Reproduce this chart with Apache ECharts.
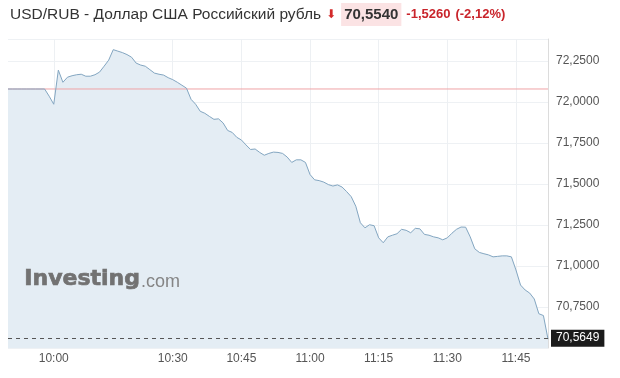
<!DOCTYPE html>
<html>
<head>
<meta charset="utf-8">
<script src="https://cdn.jsdelivr.net/npm/echarts@6/dist/echarts.min.js"></script>
<style>html,body{margin:0;padding:0;background:#fff}#c{width:620px;height:378px}</style>
</head>
<body>
<div id="c"></div>
<script>
// time categories (minutes); a few minutes missing after 10:01 as in the source
const categories = ['09:50','09:51','09:52','09:53','09:54','09:55','09:56','09:57','09:58','09:59',
  '10:00','10:01','10:06','10:07','10:08','10:09','10:10','10:11','10:12','10:13','10:14','10:15',
  '10:16','10:17','10:18','10:19','10:20','10:21','10:22','10:23','10:24','10:25','10:26','10:27','10:28','10:29',
  '10:30','10:31','10:32','10:33','10:34','10:35','10:36','10:37','10:38','10:39','10:40','10:41','10:42','10:43','10:44',
  '10:45','10:46','10:47','10:48','10:49','10:50','10:51','10:52','10:53','10:54','10:55','10:56','10:57','10:58','10:59',
  '11:00','11:01','11:02','11:03','11:04','11:05','11:06','11:07','11:08','11:09','11:10','11:11','11:12','11:13','11:14',
  '11:15','11:16','11:17','11:18','11:19','11:20','11:21','11:22','11:23','11:24','11:25','11:26','11:27','11:28','11:29',
  '11:30','11:31','11:32','11:33','11:34','11:35','11:36','11:37','11:38','11:39','11:40','11:41','11:42','11:43','11:44',
  '11:45','11:46','11:47','11:48','11:49','11:50','11:51','11:52'];
const prices = [72.08,72.08,72.08,72.08,72.08,72.08,72.08,72.08,72.08,72.036,
  71.987,72.195,72.121,72.152,72.161,72.167,72.170,72.158,72.158,72.167,72.183,72.219,
  72.256,72.320,72.311,72.302,72.290,72.274,72.238,72.226,72.219,72.198,72.177,72.170,72.165,72.149,
  72.137,72.121,72.103,72.085,72.017,71.987,71.944,71.932,71.913,71.895,71.898,71.873,71.827,71.815,71.785,
  71.769,71.739,71.711,71.714,71.693,71.676,71.687,71.695,71.693,71.687,71.665,71.632,71.648,71.648,71.632,
  71.558,71.526,71.521,71.512,71.497,71.488,71.495,71.482,71.454,71.423,71.365,71.264,71.233,71.252,71.246,
  71.172,71.142,71.178,71.188,71.197,71.224,71.218,71.203,71.230,71.227,71.193,71.188,71.178,71.172,71.160,
  71.172,71.200,71.224,71.238,71.237,71.178,71.105,71.083,71.075,71.068,71.056,71.059,71.062,71.062,71.056,
  70.976,70.884,70.854,70.835,70.799,70.709,70.698,70.554];
const xTickLabels = ['10:00','10:30','10:45','11:00','11:15','11:30','11:45'];
const yMin = 70.5, yMax = 72.385, yStep = 0.25;
const prevClose = 72.08;
const lastMark = 70.5649;
const titleName = 'USD/RUB - Доллар США Российский рубль';
const lastPrice = '70,5540', change = '-1,5260', changePct = '(-2,12%)';

const fmt = v => v.toFixed(4).replace('.', ',');
const showTick = (i, name) => xTickLabels.indexOf(name) >= 0;
const FONT = '"Liberation Sans", Arial, sans-serif';
const PINK = '#f0a4a7';
const firstCat = categories[0], lastCat = categories[categories.length - 1];

const chart = echarts.init(document.getElementById('c'), null, {renderer: 'canvas'});
chart.setOption({
  animation: false,
  backgroundColor: '#fff',
  textStyle: {fontFamily: FONT},
  title: {
    left: 10, top: 3, padding: 0,
    text: '{n|' + titleName + '} {a|⬇} {p|' + lastPrice + '} {c|' + change + '} {c|' + changePct + '}',
    textStyle: {
      fontWeight: 'normal',
      rich: {
        n: {fontSize: 15.5, fontWeight: 'normal', color: '#333', fontFamily: FONT},
        a: {fontSize: 12, color: '#d32a2a', fontFamily: 'DejaVu Sans'},
        p: {fontSize: 15, fontWeight: 'bold', color: '#333', backgroundColor: '#fbe3e4', padding: [4, 3, 4, 3], fontFamily: FONT},
        c: {fontSize: 13, fontWeight: 'bold', color: '#c9242b', fontFamily: FONT}
      }
    }
  },
  grid: {left: 8, right: 72, top: 39, bottom: 30, containLabel: false},
  xAxis: {
    type: 'category', data: categories, boundaryGap: false,
    axisLine: {show: false}, axisTick: {show: false},
    axisLabel: {interval: showTick, color: '#555', fontSize: 12, margin: 5, fontFamily: FONT},
    splitLine: {show: true, interval: showTick, lineStyle: {color: '#edf0f3', width: 1}}
  },
  yAxis: {
    type: 'value', position: 'right', min: yMin, max: yMax, interval: yStep,
    axisLine: {show: true, lineStyle: {color: '#dcdcdc'}}, axisTick: {show: false},
    axisLabel: {formatter: fmt, color: '#555', fontSize: 12, margin: 8, showMinLabel: false, showMaxLabel: false, fontFamily: FONT},
    splitLine: {show: true, lineStyle: {color: '#eef1f4', width: 1}}
  },
  series: [{
    name: 'priceArea', type: 'line', data: prices, showSymbol: false, symbol: 'none', silent: true,
    lineStyle: {width: 0, opacity: 0},
    areaStyle: {color: '#e4edf4', opacity: 1, origin: 'start'},
    z: 1
  }, {
    name: 'prevClose', type: 'line', z: 2, symbol: 'none', silent: true,
    data: [[firstCat, prevClose], [lastCat, prevClose]],
    lineStyle: {color: PINK, width: 1, type: 'solid'},
    itemStyle: {color: PINK}
  }, {
    name: 'price', type: 'line', data: prices, showSymbol: false, symbol: 'none',
    lineStyle: {color: '#83a6c1', width: 1},
    z: 3
  }, {
    name: 'last', type: 'line', data: [], z: 4, color: '#555',
    markLine: {
      silent: true, symbol: 'none', animation: false,
      lineStyle: {color: '#555', type: [4, 4], width: 1},
      emphasis: {disabled: true},
      label: {show: true, position: 'end', distance: 3, formatter: () => fmt(lastMark),
              color: '#fff', backgroundColor: '#1b1b1b', padding: [3, 5, 2, 5], fontSize: 12, fontFamily: FONT},
      data: [{yAxis: lastMark}]
    }
  }],
  graphic: [
    {type: 'text', left: 24, top: 268, z: 100, silent: true,
     style: {text: 'Investing', fontSize: 22, fontWeight: 'bold', fill: '#727272', stroke: '#727272', lineWidth: 0.7, fontFamily: '"DejaVu Sans", sans-serif'}},
    {type: 'text', left: 141, top: 273, z: 100, silent: true,
     style: {text: '.com', fontSize: 18, fill: '#858585', fontFamily: FONT}}
  ]
});
</script>
</body>
</html>
